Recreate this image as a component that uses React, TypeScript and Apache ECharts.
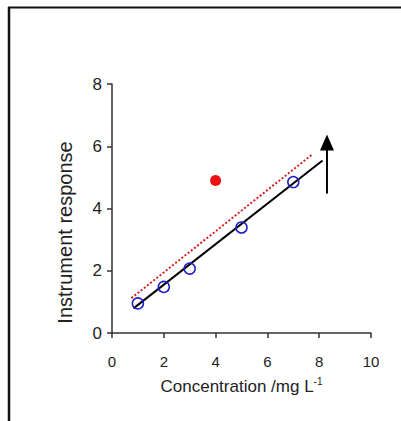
import React, { useEffect, useRef } from "react";
import * as echarts from "echarts";

const xTicks = [0, 2, 4, 6, 8, 10];
const yTicks = [0, 2, 4, 6, 8];
const standards: [number, number][] = [
  [1, 0.95],
  [2, 1.48],
  [3, 2.07],
  [5, 3.39],
  [7, 4.85],
];
const outlier: [number, number][] = [[4, 4.9]];
const fitLine: [number, number][] = [
  [0.83, 0.79],
  [8.13, 5.54],
];
const dottedLine: [number, number][] = [
  [0.75, 1.12],
  [7.75, 5.75],
];
const arrowShaft: [number, number][] = [
  [8.3, 4.48],
  [8.3, 5.9],
];
const arrowHead: [number, number][] = [[8.3, 6.12]];

export default function App() {
  const ref = useRef<HTMLDivElement>(null);
  useEffect(() => {
    if (!ref.current) return;
    const chart = echarts.init(ref.current, null, { renderer: "svg" });
    const font = "Liberation Sans, Arial, sans-serif";
    chart.setOption({
      animation: false,
      backgroundColor: "#ffffff",
      textStyle: { fontFamily: font },
      graphic: [
        { type: "line", shape: { x1: 9, y1: 7, x2: 9, y2: 421 }, style: { stroke: "#111", lineWidth: 2.5 } },
        { type: "line", shape: { x1: 8, y1: 7.5, x2: 401, y2: 7.5 }, style: { stroke: "#111", lineWidth: 2 } },
      ],
      grid: { left: 112, right: 30, top: 84, bottom: 88 },
      xAxis: {
        type: "value",
        min: xTicks[0],
        max: xTicks[xTicks.length - 1],
        interval: 2,
        splitLine: { show: false },
        axisLine: { onZero: false, lineStyle: { color: "#333", width: 1.5 } },
        axisTick: { length: 5, lineStyle: { color: "#333", width: 1.5 } },
        axisLabel: { margin: 21, fontSize: 15, color: "#222", fontFamily: font },
        name: "Concentration /mg L{sup|-1}",
        nameLocation: "middle",
        nameGap: 43,
        nameTextStyle: {
          fontSize: 17,
          color: "#222",
          fontFamily: font,
          rich: { sup: { fontSize: 10, color: "#222", padding: [0, 0, 10, 0], fontFamily: font } },
        },
      },
      yAxis: {
        type: "value",
        min: yTicks[0],
        max: yTicks[yTicks.length - 1],
        interval: 2,
        splitLine: { show: false },
        axisLine: { onZero: false, lineStyle: { color: "#333", width: 1.5 } },
        axisTick: { length: 5, lineStyle: { color: "#333", width: 1.5 } },
        axisLabel: { margin: 10, fontSize: 17, color: "#222", fontFamily: font },
        name: "Instrument response",
        nameLocation: "middle",
        nameGap: 37,
        nameTextStyle: { fontSize: 20, color: "#222", fontFamily: font, padding: [0, 48, 0, 0] },
      },
      series: [
        {
          type: "line",
          data: dottedLine,
          showSymbol: false,
          lineStyle: { color: "#d42020", width: 2, type: [2, 2] },
          z: 2,
        },
        {
          type: "line",
          data: fitLine,
          showSymbol: false,
          lineStyle: { color: "#000", width: 2 },
          z: 3,
        },
        {
          type: "scatter",
          data: standards,
          symbol: "circle",
          symbolSize: 11,
          itemStyle: { color: "rgba(255,255,255,0)", borderColor: "#1c1cc8", borderWidth: 1.5, opacity: 1 },
          z: 4,
        },
        {
          type: "scatter",
          data: outlier,
          symbol: "circle",
          symbolSize: 11,
          itemStyle: { color: "#ee1111", opacity: 1 },
          z: 4,
        },
        {
          type: "line",
          data: arrowShaft,
          showSymbol: false,
          lineStyle: { color: "#000", width: 2 },
          z: 3,
        },
        {
          type: "scatter",
          data: arrowHead,
          symbol: "triangle",
          symbolSize: [14, 16],
          itemStyle: { color: "#000", opacity: 1 },
          z: 3,
        },
      ],
    });
    return () => chart.dispose();
  }, []);
  return (
    <div
      ref={ref}
      style={{ position: "fixed", left: 0, top: 0, width: 401, height: 421 }}
    />
  );
}
